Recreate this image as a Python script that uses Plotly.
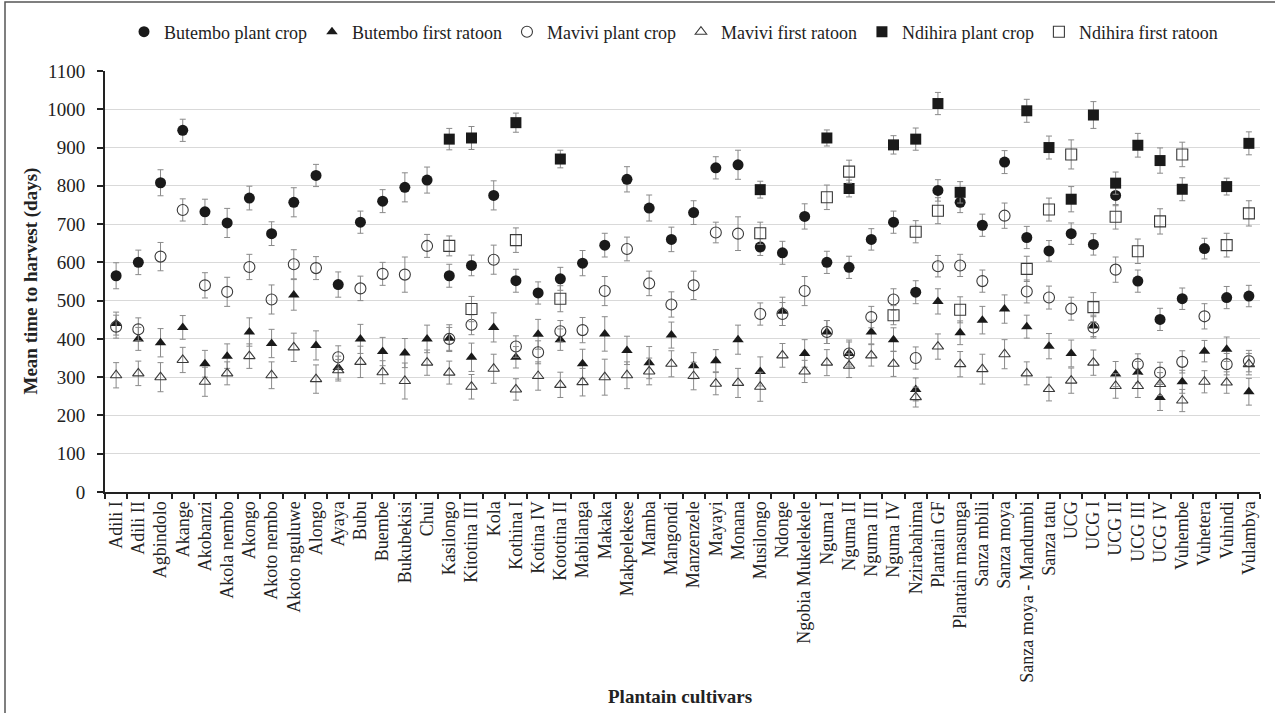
import plotly.graph_objects as go

cultivars = ["Adili I", "Adili II", "Agbindolo", "Akange", "Akobanzi", "Akola nembo", "Akongo",
             "Akoto nembo", "Akoto nguluwe", "Alongo", "Ayaya", "Bubu", "Buembe", "Bukubekisi",
             "Chui", "Kasilongo", "Kitotina III", "Kola", "Kothina I", "Kotina IV", "Kototina II",
             "Mabilanga", "Makaka", "Makpelekese", "Mamba", "Mangondi", "Manzenzele", "Mayayi",
             "Monana", "Musilongo", "Ndonge", "Ngobia Mukelekele", "Nguma I", "Nguma II",
             "Nguma III", "Nguma IV", "Nzirabahima", "Plantain GF", "Plantain masunga",
             "Sanza mbili", "Sanza moya", "Sanza moya - Mandumbi", "Sanza tatu", "UCG", "UCG I",
             "UCG II", "UCG III", "UCG IV", "Vuhembe", "Vuhetera", "Vuhindi", "Vulambya"]

N = None

butembo_plant = [565, 600, 808, 945, 732, 703, 768, 675, 757, 827, 542, 705, 760, 796,
                 815, 565, 592, 775, 552, 520, 557, 598, 645, 817, 742, 660, 730, 847,
                 855, 640, 625, 720, 600, 587, 660, 705, 522, 788, 757, 697, 862, 665,
                 630, 675, 647, 775, 551, 451, 505, 636, 508, 512]
butembo_plant_err = [34, 32, 34, 29, 33, 38, 31, 31, 38, 29, 33, 29, 30, 38,
                     34, 30, 27, 38, 30, 29, 30, 33, 31, 33, 34, 32, 31, 29,
                     38, 22, 30, 33, 29, 29, 28, 29, 30, 28, 27, 29, 30, 29,
                     27, 28, 28, 27, 29, 29, 28, 27, 29, 28]

butembo_ratoon = [440, 400, 390, 430, 335, 355, 418, 388, 515, 383, 325, 400, 367, 363,
                  400, 402, 352, 430, 352, 412, 398, 335, 413, 370, 338, 410, 330, 343,
                  398, 315, 472, 362, 418, 362, 418, 398, 268, 498, 416, 449, 478, 432,
                  381, 362, 434, 308, 313, 247, 288, 368, 373, 262]
butembo_ratoon_err = [30, 30, 37, 31, 35, 32, 37, 37, 40, 38, 30, 38, 37, 38,
                      36, 35, 37, 38, 28, 39, 28, 38, 45, 37, 42, 34, 34, 29,
                      38, 38, 37, 36, 30, 35, 31, 31, 30, 33, 31, 36, 37, 30,
                      33, 35, 28, 33, 28, 34, 30, 28, 32, 35]

mavivi_plant = [432, 425, 615, 737, 540, 523, 588, 503, 595, 585, 352, 532, 570, 568,
                643, 400, 437, 607, 380, 365, 420, 423, 525, 635, 545, 490, 540, 678,
                675, 465, 465, 525, 418, 362, 457, 503, 350, 590, 592, 551, 722, 524,
                508, 479, 430, 581, 334, 312, 340, 459, 334, 342]
mavivi_plant_err = [30, 30, 37, 29, 33, 38, 33, 38, 38, 30, 30, 32, 30, 46,
                    30, 30, 26, 38, 28, 30, 28, 33, 38, 31, 32, 33, 37, 27,
                    44, 29, 30, 38, 30, 30, 28, 28, 29, 28, 29, 29, 33, 30,
                    30, 30, 28, 33, 27, 27, 29, 33, 28, 28]

mavivi_ratoon = [305, 310, 300, 345, 288, 310, 355, 305, 378, 295, 318, 340, 313, 290,
                 338, 312, 275, 322, 268, 303, 280, 287, 300, 305, 315, 335, 303, 283,
                 285, 275, 357, 315, 338, 330, 357, 335, 248, 380, 334, 321, 360, 310,
                 269, 291, 338, 277, 277, 282, 239, 288, 286, 334]
mavivi_ratoon_err = [33, 32, 38, 33, 38, 30, 32, 35, 37, 37, 28, 41, 30, 47,
                     33, 30, 32, 38, 28, 37, 33, 36, 47, 35, 35, 34, 36, 29,
                     38, 38, 31, 29, 34, 31, 28, 33, 26, 33, 33, 39, 38, 30,
                     31, 33, 33, 32, 30, 30, 29, 29, 28, 28]

ndihira_plant = [N, N, N, N, N, N, N, N, N, N, N, N, N, N,
                 N, 922, 925, N, 965, N, 870, N, N, N, N, N, N, N,
                 N, 790, N, N, 925, 793, N, 907, 922, 1015, 783, N, N, 996,
                 900, 765, 985, 807, 906, 866, 791, N, 798, 911]
ndihira_plant_err = [N, N, N, N, N, N, N, N, N, N, N, N, N, N,
                     N, 28, 30, N, 25, N, 23, N, N, N, N, N, N, N,
                     N, 22, N, N, 21, 22, N, 24, 29, 29, 28, N, N, 30,
                     30, 33, 35, 29, 31, 33, 30, N, 22, 30]

ndihira_ratoon = [N, N, N, N, N, N, N, N, N, N, N, N, N, N,
                  N, 643, 478, N, 658, N, 505, N, N, N, N, N, N, N,
                  N, 676, N, N, 770, 837, N, 462, 680, 735, 476, N, N, 583,
                  738, 882, 483, 719, 629, 707, 882, N, 645, 728]
ndihira_ratoon_err = [N, N, N, N, N, N, N, N, N, N, N, N, N, N,
                      N, 26, 33, N, 32, N, 34, N, N, N, N, N, N, N,
                      N, 29, N, N, 32, 30, N, 25, 29, 34, 34, N, N, 33,
                      30, 38, 38, 32, 32, 33, 32, N, 31, 33]

series = [
    ("Butembo plant crop", butembo_plant, butembo_plant_err, "circle", 11),
    ("Butembo first ratoon", butembo_ratoon, butembo_ratoon_err, "triangle-up", 10),
    ("Mavivi plant crop", mavivi_plant, mavivi_plant_err, "circle-open", 11),
    ("Mavivi first ratoon", mavivi_ratoon, mavivi_ratoon_err, "triangle-up-open", 10),
    ("Ndihira plant crop", ndihira_plant, ndihira_plant_err, "square", 11),
    ("Ndihira first ratoon", ndihira_ratoon, ndihira_ratoon_err, "square-open", 11),
]

FONT = "Liberation Serif"
TXT = "#222222"

fig = go.Figure()
for name, vals, errs, sym, size in series:
    is_open = sym.endswith("open")
    fig.add_trace(go.Scatter(
        x=cultivars, y=vals, name=name, mode="markers",
        marker=dict(symbol=sym, size=size,
                    color="#3a3a3a" if is_open else "#1a1a1a",
                    line=dict(width=1.1 if is_open else 0, color="#3a3a3a")),
        error_y=dict(type="data", array=errs, visible=True,
                     color="#8a8a8a", thickness=1, width=3),
    ))

W, H = 1275, 713
L, R, T, B = 105, 15, 71, 221
pw, ph = W - L - R, H - T - B

def px_x(p):
    return (p - L) / pw

def px_y(p):
    return (H - B - p) / ph

fig.update_layout(
    width=W, height=H,
    margin=dict(l=L, r=R, t=T, b=B, autoexpand=False),
    paper_bgcolor="white", plot_bgcolor="white",
    font=dict(family=FONT, size=18, color=TXT),
    showlegend=True,
    legend=dict(orientation="h", x=0.5 - 9 / pw, xanchor="center", y=px_y(32), yanchor="middle",
                font=dict(family=FONT, size=18, color=TXT),
                itemwidth=30, bgcolor="rgba(0,0,0,0)"),
    xaxis=dict(
        type="category", range=[-0.5, len(cultivars) - 0.5],
        tickangle=-90, tickfont=dict(family=FONT, size=18, color=TXT),
        ticks="outside", ticklen=5, tickwidth=1.5, tickcolor=TXT,
        tickson="boundaries",
        showline=True, linecolor=TXT, linewidth=2,
        showgrid=False, zeroline=False,
    ),
    yaxis=dict(
        range=[0, 1100], dtick=100, tick0=0,
        tickfont=dict(family=FONT, size=19, color=TXT),
        ticks="outside", ticklen=6, tickwidth=1.5, tickcolor=TXT,
        ticklabelstandoff=8,
        showline=True, linecolor=TXT, linewidth=2,
        showgrid=True, gridcolor="#d9d9d9", gridwidth=1,
        zeroline=False,
    ),
    annotations=[
        dict(text="<b>Mean time to harvest (days)</b>", xref="paper", yref="paper",
             x=px_x(30), y=0.5, xanchor="center", yanchor="middle", textangle=-90,
             showarrow=False, font=dict(family=FONT, size=19, color=TXT)),
        dict(text="<b>Plantain cultivars</b>", xref="paper", yref="paper",
             x=px_x(680), y=px_y(696), xanchor="center", yanchor="middle",
             showarrow=False, font=dict(family=FONT, size=19, color=TXT)),
    ],
    shapes=[
        dict(type="rect", xref="paper", yref="paper",
             x0=px_x(5), x1=px_x(1285), y0=px_y(725), y1=px_y(2),
             line=dict(color="#555555", width=1.5), fillcolor="rgba(0,0,0,0)", layer="below"),
    ],
)

fig.write_html("out.html")
